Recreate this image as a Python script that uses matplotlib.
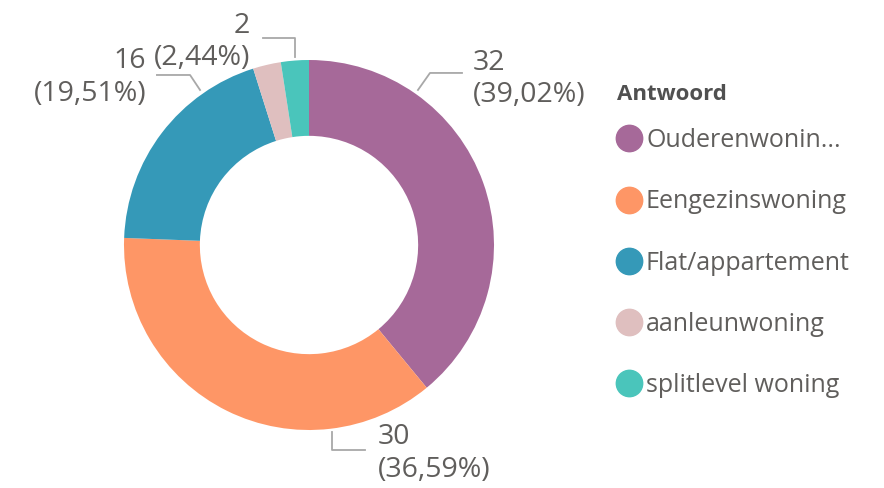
import matplotlib.pyplot as plt
from matplotlib.lines import Line2D

# Data
categories = ['Ouderenwoning', 'Eengezinswoning', 'Flat/appartement', 'aanleunwoning', 'splitlevel woning']
legend_labels = ['Ouderenwonin...', 'Eengezinswoning', 'Flat/appartement', 'aanleunwoning', 'splitlevel woning']
counts = [32, 30, 16, 2, 2]

COLORS = ['#A66999', '#FE9666', '#3599B8', '#DFBFBF', '#4AC5BB']
TEXT_COLOR = '#605E5C'
LINE_COLOR = '#A8A8A8'

# Leader line layout per category (start, elbow, end, text anchor, ha); None = label hidden
LABEL_LAYOUT = {
    'Ouderenwoning': ((0.589, 0.838), (0.654, 0.930), (0.827, 0.930), (0.886, 0.897), 'left'),
    'Eengezinswoning': ((0.124, -1.011), (0.124, -1.108), (0.303, -1.108), (0.373, -1.127), 'left'),
    'Flat/appartement': ((-0.589, 0.838), (-0.643, 0.919), (-0.822, 0.919), (-0.881, 0.905), 'right'),
    'aanleunwoning': None,
    'splitlevel woning': ((-0.076, 1.016), (-0.076, 1.119), (-0.249, 1.119), (-0.319, 1.097), 'right'),
}

plt.rcParams['font.family'] = ['Open Sans', 'DejaVu Sans']

fig = plt.figure(figsize=(8.84, 4.88), dpi=100)
ax = fig.add_axes([0, 0, 1, 1])

ax.pie(counts, colors=COLORS, startangle=90, counterclock=False, radius=1,
       wedgeprops=dict(width=0.41, edgecolor='none'))

ax.set_xlim(-309 / 185, (884 - 309) / 185)
ax.set_ylim(-(488 - 245) / 185, 245 / 185)
ax.set_aspect('auto')
ax.axis('off')

# Data labels with leader lines
total = sum(counts)
for cat, val in zip(categories, counts):
    layout = LABEL_LAYOUT[cat]
    if layout is None:
        continue
    start, elbow, end, txt_pos, ha = layout
    ax.plot([start[0], elbow[0], end[0]], [start[1], elbow[1], end[1]], color=LINE_COLOR, lw=1.3)
    pct = f'{val / total * 100:.2f}'.replace('.', ',')
    ax.text(txt_pos[0], txt_pos[1], f'{val}\n({pct}%)', ha=ha, va='center', fontsize=20.5,
            color=TEXT_COLOR, linespacing=1.2)

# Legend
fig.text(617 / 884, 1 - 95 / 488, 'Antwoord', ha='left', va='center', fontsize=16,
         fontweight='bold', color='#505050')
handles = [Line2D([0], [0], marker='o', linestyle='', markersize=19, markerfacecolor=c, markeredgecolor=c)
           for c in COLORS]
leg = ax.legend(handles, legend_labels, loc='upper left',
                bbox_to_anchor=(616 / 884, 1 - 128 / 488), bbox_transform=fig.transFigure,
                frameon=False, fontsize=18, labelspacing=1.45, handlelength=1.0, handletextpad=0.2,
                borderpad=0, borderaxespad=0)
for t in leg.get_texts():
    t.set_color(TEXT_COLOR)

fig.savefig('out.png', dpi=100)
